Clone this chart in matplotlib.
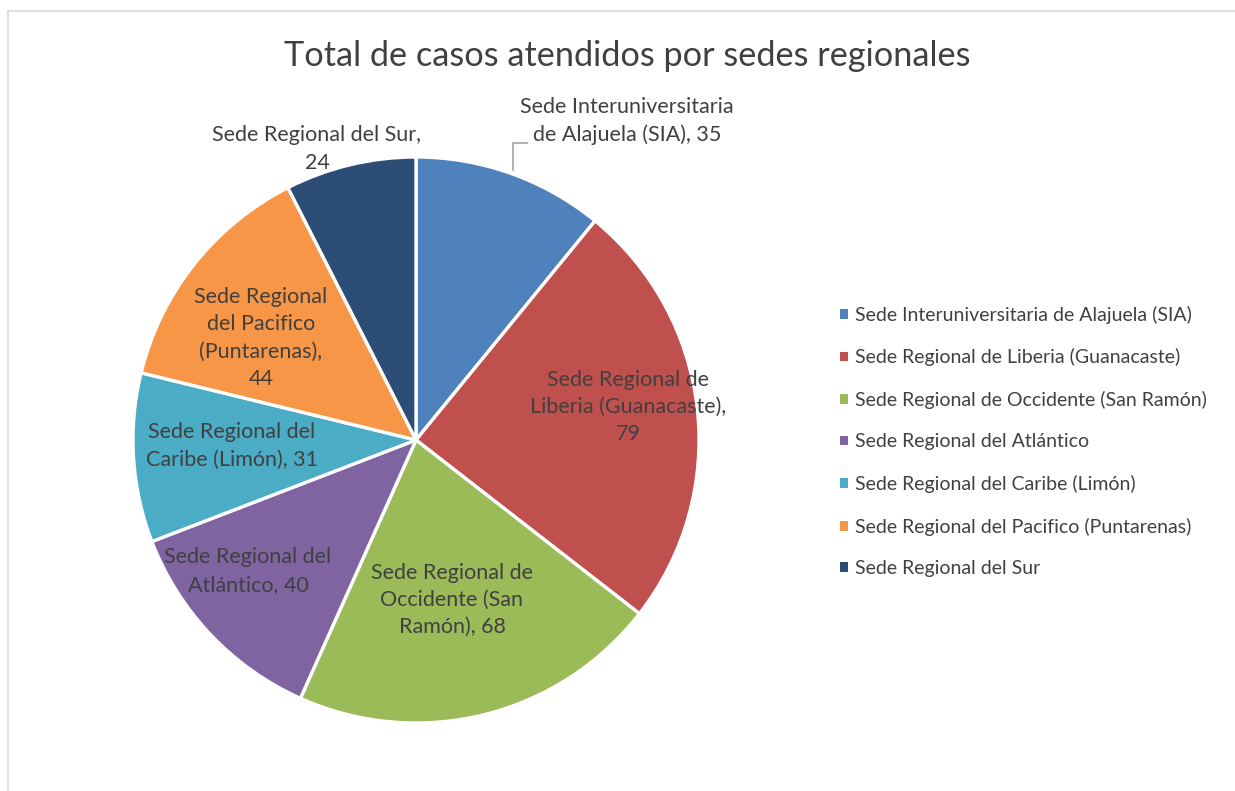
import matplotlib
matplotlib.use("Agg")
import matplotlib.pyplot as plt
from matplotlib.patches import Patch
from matplotlib.lines import Line2D

plt.rcParams["font.family"] = ["Lato", "DejaVu Sans"]

# data
sedes = [
    "Sede Interuniversitaria de Alajuela (SIA)",
    "Sede Regional de Liberia (Guanacaste)",
    "Sede Regional de Occidente (San Ramón)",
    "Sede Regional del Atlántico",
    "Sede Regional del Caribe (Limón)",
    "Sede Regional del Pacifico (Puntarenas)",
    "Sede Regional del Sur",
]
casos = [35, 79, 68, 40, 31, 44, 24]
etiquetas = [
    "Sede Interuniversitaria\nde Alajuela (SIA), 35",
    "Sede Regional de\nLiberia (Guanacaste),\n79",
    "Sede Regional de\nOccidente (San\nRamón), 68",
    "Sede Regional del\nAtlántico, 40",
    "Sede Regional del\nCaribe (Limón), 31",
    "Sede Regional\ndel Pacifico\n(Puntarenas),\n44",
    "Sede Regional del Sur,\n24",
]
colores = ["#4F81BD", "#C0504D", "#9BBB59", "#8064A2", "#4BACC6", "#F79646", "#2C4D75"]

# label positions (pie radius = 1)
pos_etiquetas = [(0.746, 1.127), (0.749, 0.117), (0.127, -0.565), (-0.594, -0.463),
                 (-0.650, -0.021), (-0.548, 0.360), (-0.350, 1.028)]

txt_color = "#404040"

fig = plt.figure(figsize=(12.35, 7.91), dpi=100)

# chart border (light gray)
fig.add_artist(Line2D([8 / 1235, 8 / 1235], [0, 1 - 11 / 791], color="#D9D9D9", lw=1.2))
fig.add_artist(Line2D([8 / 1235, 1], [1 - 11 / 791, 1 - 11 / 791], color="#D9D9D9", lw=1.2))

ax = fig.add_axes([133 / 1235, 68 / 791, 566 / 1235, 566 / 791])
wedges, _ = ax.pie(casos, colors=colores, startangle=90, counterclock=False,
                   wedgeprops=dict(edgecolor="white", linewidth=2.4), radius=1)
ax.set_xlim(-1, 1)
ax.set_ylim(-1, 1)
ax.set_aspect("equal")
ax.axis("off")

for lab, (x, y) in zip(etiquetas, pos_etiquetas):
    ax.text(x, y, lab, ha="center", va="center", fontsize=15.5, color=txt_color,
            linespacing=1.46)

# leader line for the SIA label
ax.plot([0.343, 0.343, 0.392], [0.954, 1.049, 1.049], color="#A6A6A6", lw=1.2, clip_on=False)

fig.text(627 / 1235, 1 - 56 / 791, "Total de casos atendidos por sedes regionales",
         ha="center", va="center", fontsize=24.7, color=txt_color)

handles = [Patch(facecolor=c, edgecolor="none") for c in colores]
fig.legend(handles, sedes, loc="upper left", bbox_to_anchor=(832 / 1235, 1 - 298 / 791),
           frameon=False, fontsize=14, handlelength=0.4, handleheight=0.4,
           handletextpad=0.4, labelspacing=1.26, labelcolor=txt_color, borderaxespad=0)

fig.savefig("out.png", dpi=100)
